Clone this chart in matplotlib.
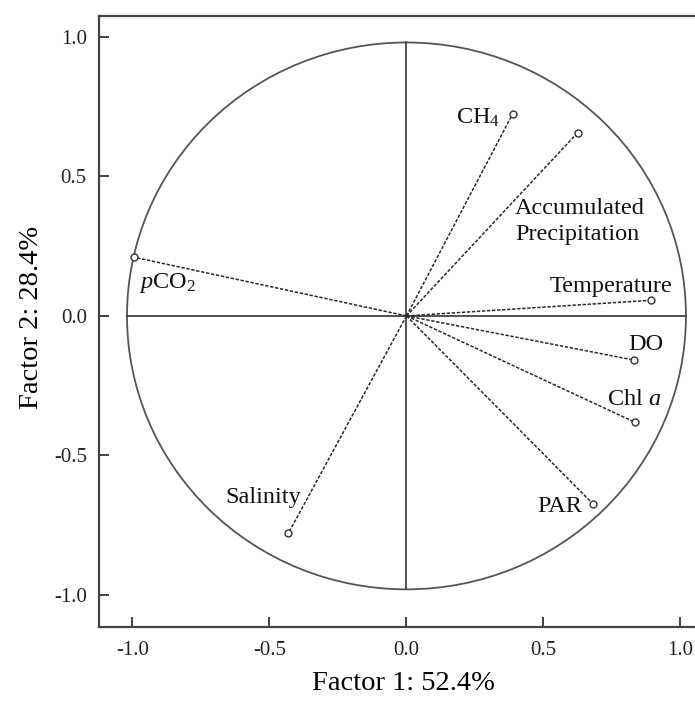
import numpy as np
import matplotlib
matplotlib.use("Agg")
from matplotlib import pyplot as plt
from matplotlib.patches import Ellipse

plt.rcParams['font.family'] = ['Liberation Serif', 'DejaVu Serif']
plt.rcParams['mathtext.fontset'] = 'custom'
plt.rcParams['mathtext.rm'] = 'Liberation Serif'
plt.rcParams['mathtext.it'] = 'Liberation Serif:italic'

# loadings
names   = ["CH4", "Accumulated", "Temperature", "DO", "Chl a", "PAR", "Salinity", "pCO2"]
factor1 = [0.388, 0.625, 0.893, 0.829, 0.833, 0.680, -0.431, -0.993]
factor2 = [0.725, 0.657, 0.056, -0.158, -0.381, -0.673, -0.779, 0.210]

labels = [r"CH$_4$", "Accumulated\nPrecipitation", "Temperature", "DO",
          r"Chl $\mathit{a}$", "PAR", "Salinity", r"$\mathit{p}$CO$_2$"]
label_x = [0.341, 0.396, 0.524, 0.808, 0.732, 0.476, -0.662, -0.975]
label_y = [0.710, 0.338, 0.105, -0.104, -0.301, -0.683, -0.652, 0.118]
label_ha = ["right", "left", "left", "left", "left", "left", "left", "left"]

ticks = [-1.0, -0.5, 0.0, 0.5, 1.0]

fig = plt.figure(figsize=(6.95, 7.13), dpi=100)
ax = fig.add_axes([0.1429, 0.121, 0.8571, 0.857])
ax.set_xlim(-1.121, 1.053)
ax.set_ylim(-1.114, 1.076)

# unit circle and cross
ax.add_patch(Ellipse((0, 0), 2.04, 1.96, fill=False, edgecolor="#555555", lw=1.3))
ax.plot([-1.02, 1.02], [0, 0], color="#444444", lw=1.3)
ax.plot([0, 0], [-0.98, 0.98], color="#444444", lw=1.3)

for i in range(len(names)):
    ax.plot([0, factor1[i]], [0, factor2[i]], color="#2a2a2a", lw=1.1,
            dashes=(2.2, 1.1))
    ax.plot(factor1[i], factor2[i], marker="o", ms=5, mfc="white",
            mec="#333333", mew=1.0)
    ax.text(label_x[i], label_y[i], labels[i], ha=label_ha[i], va="center",
            fontsize=17.5, color="#111111", linespacing=1.35)

ax.set_xticks(ticks)
ax.set_yticks(ticks)
ax.set_xticklabels(["{:1.1f}".format(t) for t in ticks])
ax.set_yticklabels(["{:1.1f}".format(t) for t in ticks])
ax.tick_params(direction="in", length=7, width=1.3, color="#333333",
               labelsize=15, pad=9, labelcolor="#222222")
ax.tick_params(axis="x", pad=10)

ax.spines["right"].set_visible(False)
for s in ["top", "left", "bottom"]:
    ax.spines[s].set_linewidth(1.6)
    ax.spines[s].set_color("#444444")

fig.text(0.58, 0.042, "Factor 1: 52.4%", ha="center", va="center", fontsize=20.5)
fig.text(0.045, 0.555, "Factor 2: 28.4%", ha="center", va="center",
         fontsize=20.5, rotation=90)

plt.savefig("out.png", dpi=100)
